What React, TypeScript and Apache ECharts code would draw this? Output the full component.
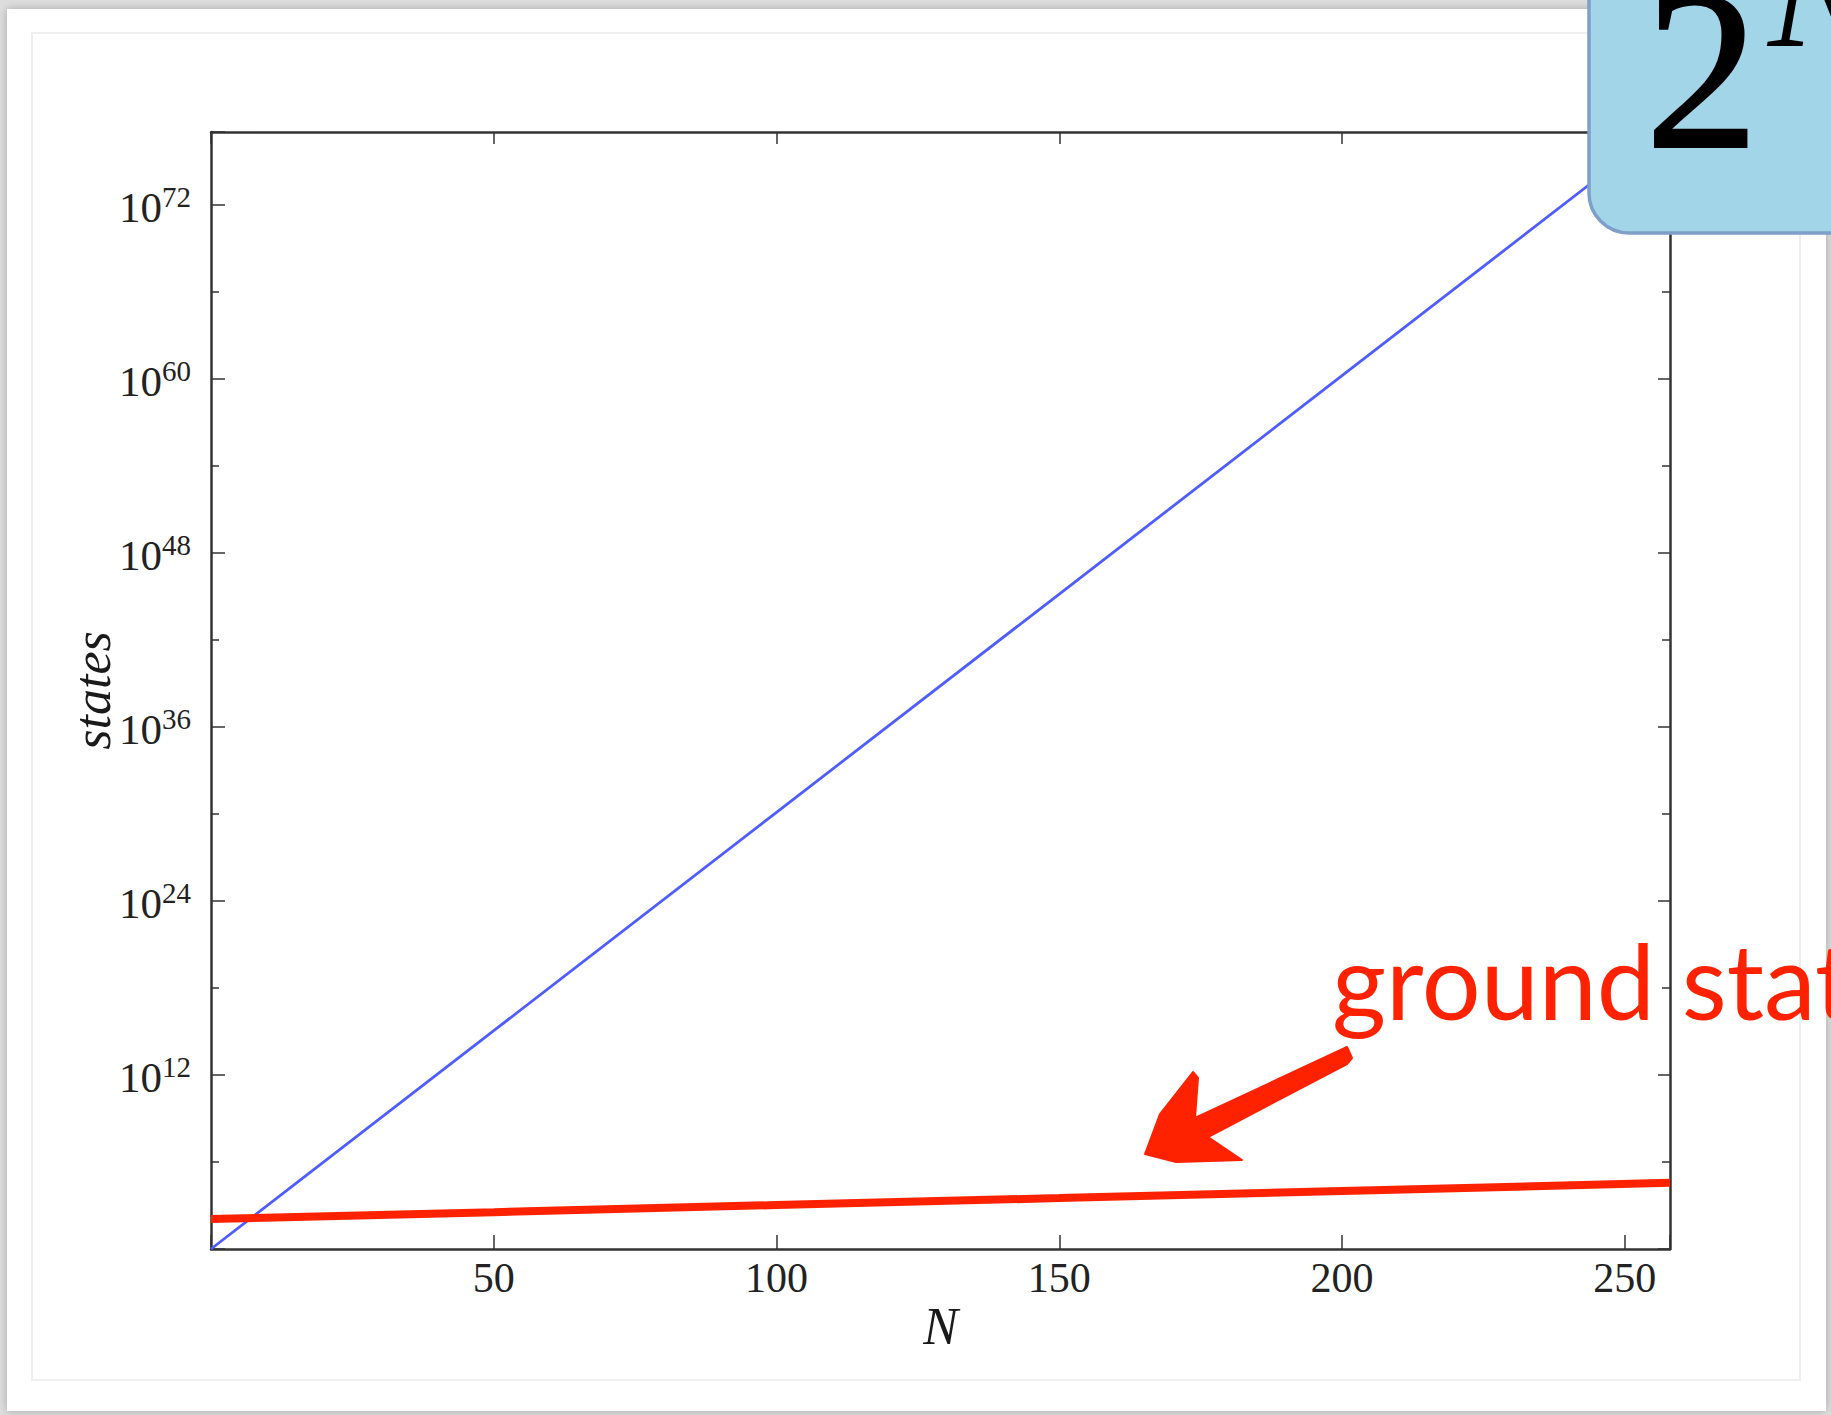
import React, { useEffect, useRef } from 'react';
import * as echarts from 'echarts';

// ---- data ----
// all states: 2^N, stored as log10(states)
const nValues = [0, 50, 100, 150, 200, 250, 256];
const allStatesLog10 = [0, 15.05, 30.1, 45.15, 60.2, 75.26, 77.06];
// ground state line (red), stored as log10(states)
const groundN = [0, 50, 100, 150, 200, 258];
const groundStatesLog10 = [2.06, 2.54, 3.03, 3.51, 4.0, 4.56];

const xTickLabels = [50, 100, 150, 200, 250];
const yTickExponents = [12, 24, 36, 48, 60, 72];

const xMin = 0;
const xMax = 258;
const yMinExp = 0;
const yMaxExp = 77;

const serif = "'Liberation Serif', 'Times New Roman', serif";
const sans = "Lato, 'Open Sans', sans-serif";
const axisColor = '#333333';
const red = '#FF2200';

export default function App() {
  const ref = useRef<HTMLDivElement>(null);

  useEffect(() => {
    document.body.style.margin = '0';
    document.body.style.overflow = 'hidden';
    const chart = echarts.init(ref.current as HTMLDivElement, null, { renderer: 'svg' });

    const commonX = {
      type: 'value',
      min: xMin,
      max: xMax,
      interval: 50,
      splitLine: { show: false },
      axisLine: { show: true, onZero: false, lineStyle: { color: axisColor, width: 2.5 } },
    };
    const commonY = {
      type: 'value',
      min: yMinExp,
      max: yMaxExp,
      interval: 12,
      splitLine: { show: false },
      axisLine: { show: true, onZero: false, lineStyle: { color: axisColor, width: 2.5 } },
      minorTick: { show: true, splitNumber: 2, length: 8, lineStyle: { color: axisColor, width: 1.5 } },
      minorSplitLine: { show: false },
    };

    const option: any = {
      animation: false,
      backgroundColor: '#dedede',
      grid: { left: 211, top: 132, right: 161, bottom: 166, containLabel: false },
      xAxis: [
        {
          ...commonX,
          position: 'bottom',
          name: 'N',
          nameLocation: 'middle',
          nameGap: 51,
          nameMoveOverlap: false,
          nameTextStyle: { fontFamily: serif, fontStyle: 'italic', fontSize: 52, color: '#1a1a1a' },
          axisTick: { show: true, inside: true, length: 14, lineStyle: { color: axisColor, width: 1.5 } },
          axisLabel: {
            show: true,
            margin: 8,
            fontFamily: serif,
            fontSize: 42,
            color: '#222',
            formatter: (v: number) => (xTickLabels.includes(v) ? String(v) : ''),
          },
        },
        {
          ...commonX,
          position: 'top',
          axisTick: { show: true, inside: true, length: 12, lineStyle: { color: axisColor, width: 1.5 } },
          axisLabel: { show: false },
        },
      ],
      yAxis: [
        {
          ...commonY,
          position: 'left',
          name: 'states',
          nameLocation: 'middle',
          nameGap: 93,
          nameMoveOverlap: false,
          nameTextStyle: { fontFamily: serif, fontStyle: 'italic', fontSize: 52, color: '#1a1a1a' },
          axisTick: { show: true, inside: true, length: 14, lineStyle: { color: axisColor, width: 1.5 } },
          axisLabel: {
            show: true,
            margin: 20,
            formatter: (v: number) => (yTickExponents.includes(v) ? `{b|10}{s|${v}}` : ''),
            rich: {
              b: { fontFamily: serif, fontSize: 43, color: '#222', lineHeight: 52, padding: [6, 0, 0, 0] },
              s: { fontFamily: serif, fontSize: 29, color: '#222', lineHeight: 30, verticalAlign: 'top', padding: [4, 0, 0, 0] },
            },
          },
        },
        {
          ...commonY,
          position: 'right',
          axisTick: { show: true, inside: true, length: 12, lineStyle: { color: axisColor, width: 1.5 } },
          axisLabel: { show: false },
        },
      ],
      series: [
        {
          name: 'all states',
          type: 'line',
          xAxisIndex: 0,
          yAxisIndex: 0,
          data: nValues.map((n, i) => [n, allStatesLog10[i]]),
          showSymbol: false,
          symbol: 'none',
          clip: true,
          lineStyle: { color: '#4f5dff', width: 2.8 },
          z: 3,
        },
        {
          name: 'ground state',
          type: 'line',
          xAxisIndex: 0,
          yAxisIndex: 0,
          data: groundN.map((n, i) => [n, groundStatesLog10[i]]),
          showSymbol: false,
          symbol: 'none',
          clip: true,
          lineStyle: { color: red, width: 8 },
          z: 4,
        },
      ],
      graphic: [
        {
          type: 'rect',
          z: -100,
          shape: { x: 7, y: 9, width: 1819, height: 1402 },
          style: { fill: '#ffffff', shadowBlur: 10, shadowColor: 'rgba(0,0,0,0.25)' },
          silent: true,
        },
        {
          type: 'rect',
          z: -99,
          shape: { x: 32, y: 33, width: 1768, height: 1347 },
          style: { fill: 'none', stroke: '#efefef', lineWidth: 2 },
          silent: true,
        },
        {
          type: 'polygon',
          z: 50,
          shape: {
            points: [
              [1347, 1047],
              [1352, 1058],
              [1347, 1064],
              [1208, 1137],
              [1242, 1160],
              [1176, 1162],
              [1145, 1154],
              [1160, 1114],
              [1193, 1072],
              [1198, 1078],
              [1195, 1118],
            ],
          },
          style: { fill: red, stroke: red, lineWidth: 2, lineJoin: 'round' },
          silent: true,
        },
        {
          type: 'text',
          z: 40,
          x: 1332,
          y: 979,
          style: {
            text: 'ground state',
            fontFamily: sans,
            fontSize: 104,
            fill: red,
            align: 'left',
            verticalAlign: 'middle',
          },
          silent: true,
        },
        {
          type: 'rect',
          z: 100,
          shape: { x: 1589, y: -60, width: 400, height: 293, r: 40 },
          style: { fill: '#A3D5E9', stroke: '#7F9FC8', lineWidth: 3.5 },
          silent: true,
        },
        {
          type: 'text',
          z: 101,
          x: 1645,
          y: 70,
          style: {
            text: '2',
            fontFamily: serif,
            fontSize: 228,
            fill: '#000',
            stroke: '#000',
            lineWidth: 2,
            align: 'left',
            verticalAlign: 'middle',
          },
          silent: true,
        },
        {
          type: 'text',
          z: 101,
          x: 1768,
          y: -8,
          style: {
            text: 'N',
            fontFamily: serif,
            fontStyle: 'italic',
            fontSize: 160,
            fill: '#000',
            align: 'left',
            verticalAlign: 'middle',
          },
          silent: true,
        },
      ],
    };

    chart.setOption(option);
    return () => chart.dispose();
  }, []);

  return <div ref={ref} style={{ width: 1831, height: 1415 }} />;
}
